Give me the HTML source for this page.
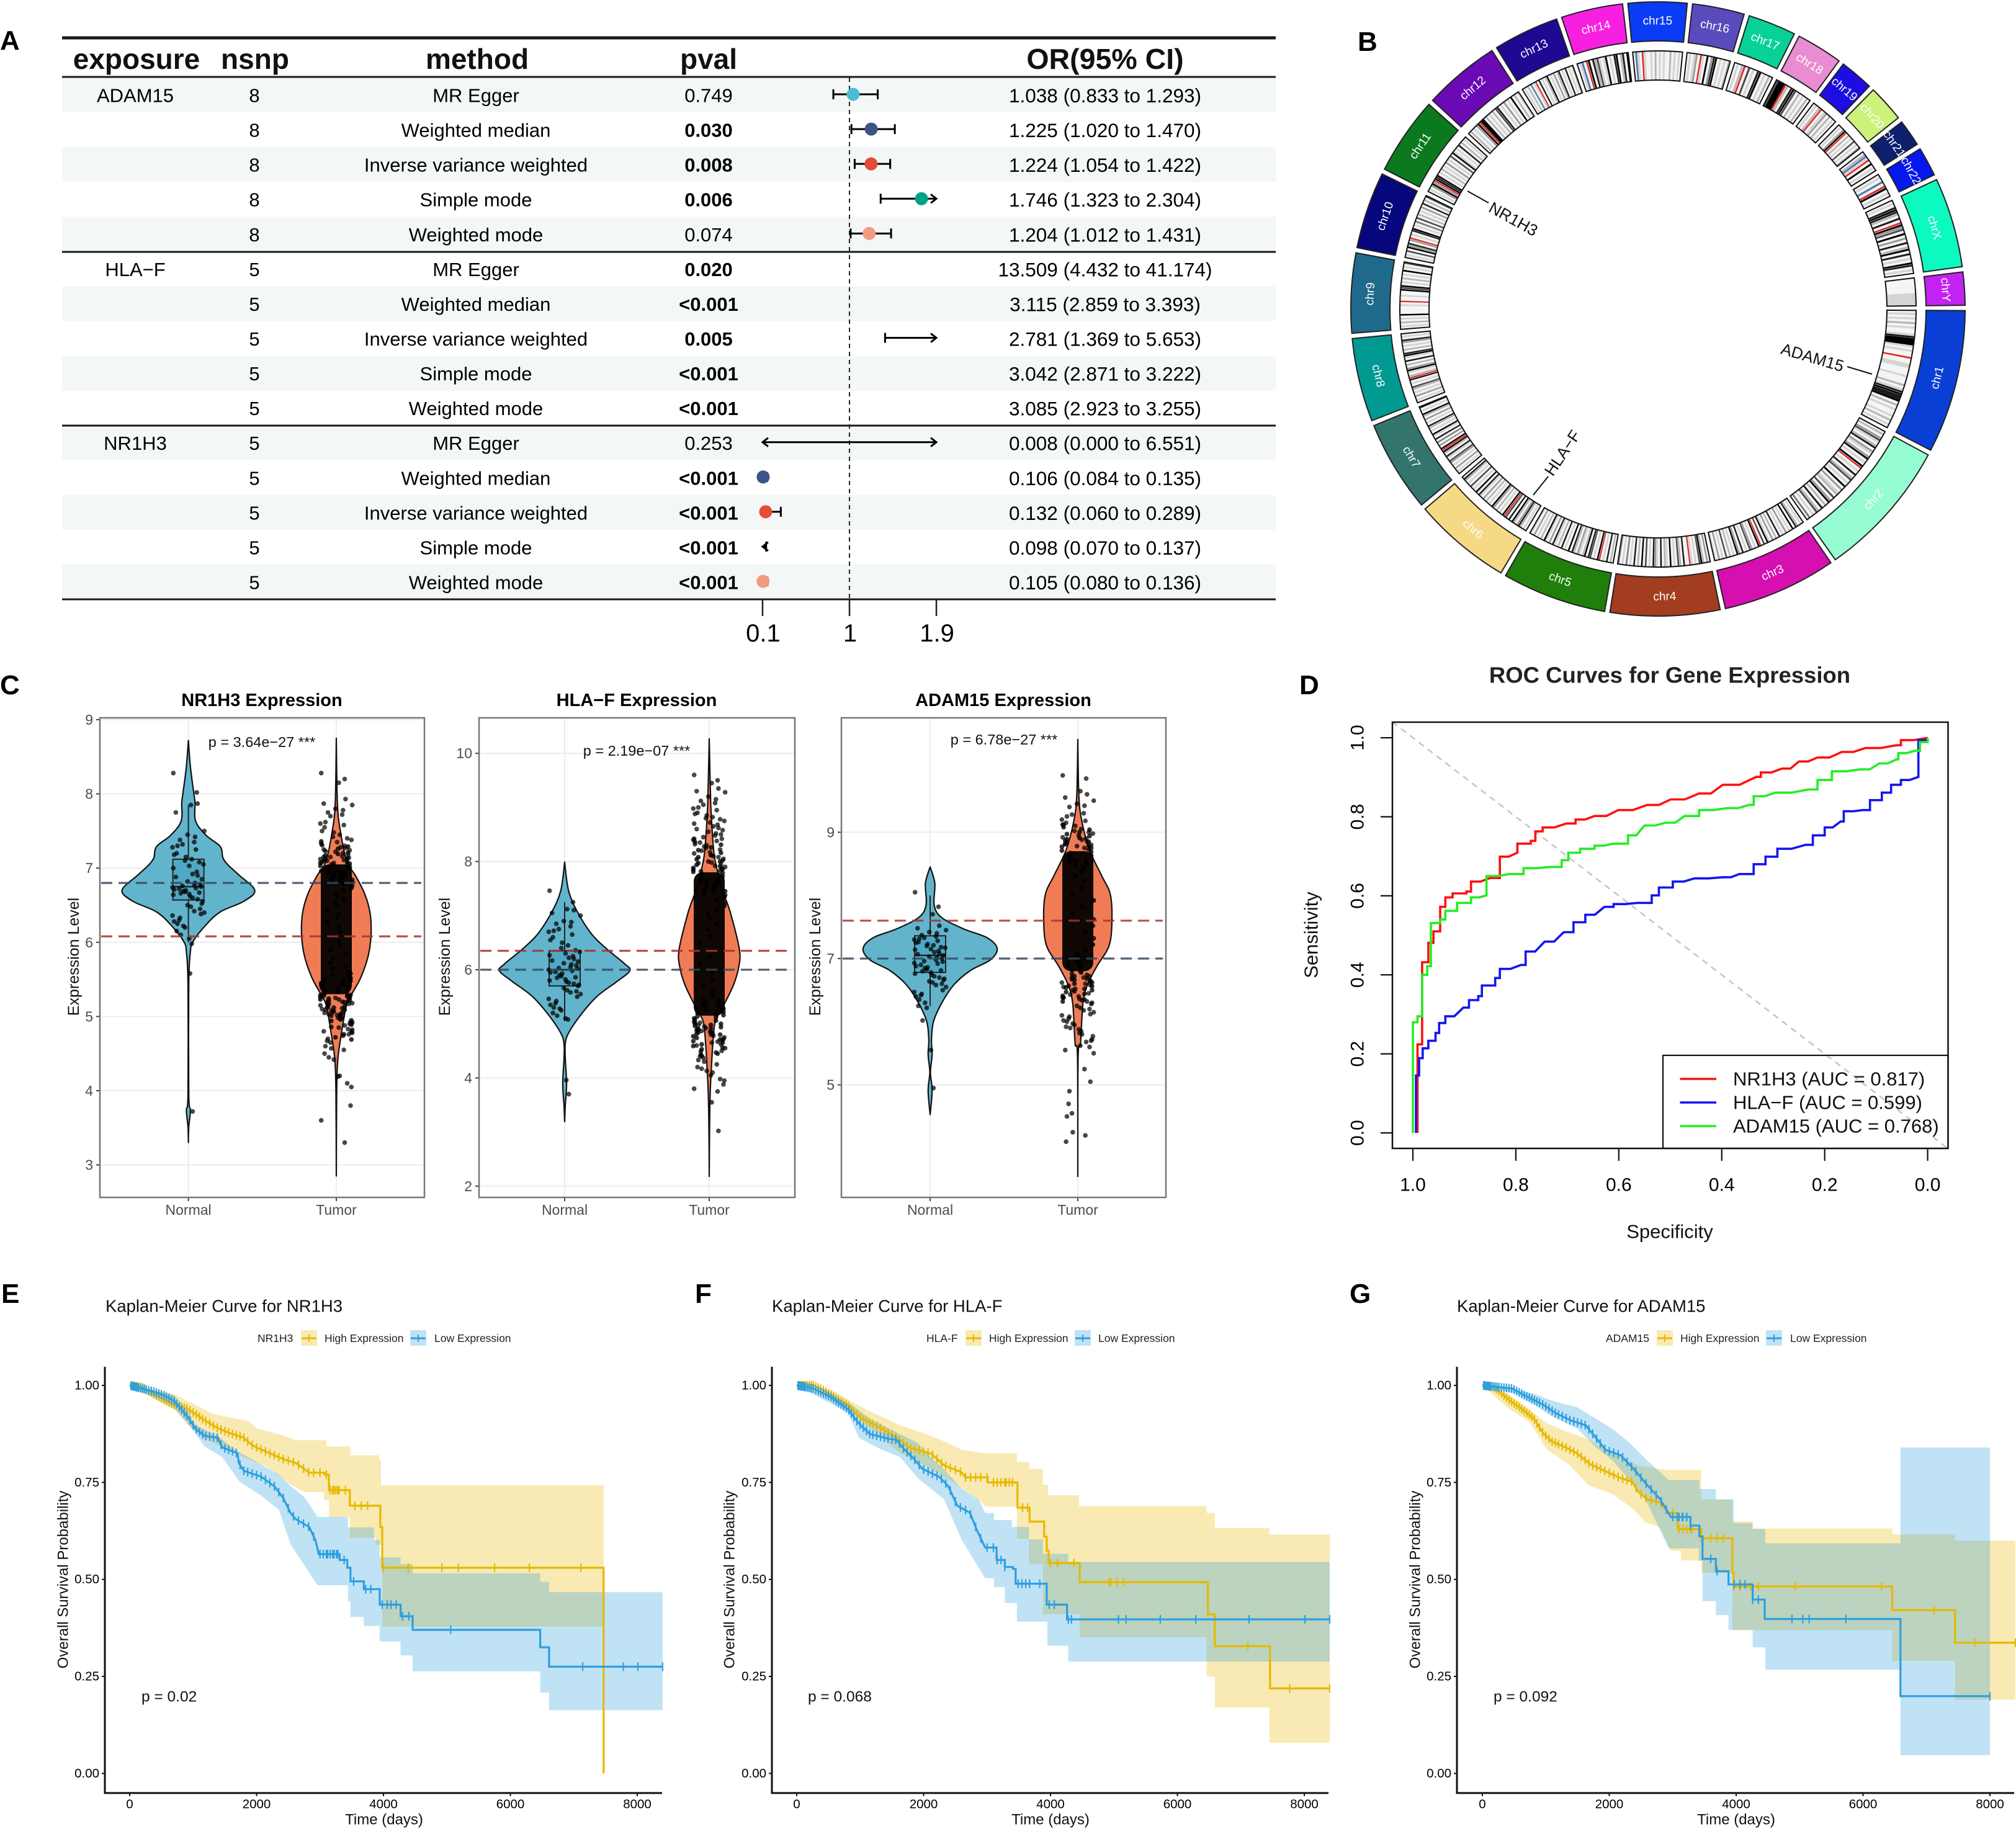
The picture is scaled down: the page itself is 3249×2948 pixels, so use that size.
<!DOCTYPE html>
<html lang="en">
<head>
<meta charset="utf-8">
<title>Gene expression multi-panel figure</title>
<style>
html,body{margin:0;padding:0;background:#fff}
svg{display:block}
text{font-family:"Liberation Sans",sans-serif;fill:#000}
.letter{font-size:44px;font-weight:700}
.vt{font-size:29px;font-weight:700;text-anchor:middle;dominant-baseline:central}
.yl{font-size:25px;text-anchor:middle;dominant-baseline:central;fill:#111}
.pv{font-size:23.5px;text-anchor:middle;dominant-baseline:central;fill:#111}
.km-title{font-size:27.5px;dominant-baseline:central;fill:#111}
.km-leg{font-size:17.5px;dominant-baseline:central;fill:#222}
.km-axis{font-size:24px;text-anchor:middle;dominant-baseline:central;fill:#111}
.km-p{font-size:24.5px;dominant-baseline:central;fill:#111}
.gene{font-size:26px;text-anchor:middle;dominant-baseline:central;fill:#111}
.roc-t{font-size:31px;text-anchor:middle;dominant-baseline:central;fill:#111}
.roc-leg{font-size:31px;dominant-baseline:central;fill:#111}
.hdr{font-size:46px;font-weight:700;text-anchor:middle;dominant-baseline:central;fill:#111}
</style>
</head>
<body>
<svg id="fig" xmlns="http://www.w3.org/2000/svg" width="3249" height="2948" viewBox="0 0 3249 2948">
<rect x="0" y="0" width="3249" height="2948" fill="#fff"/>
<g id="forest"></g>
<g id="circos"></g>
<g id="violins"></g>
<g id="roc"></g>
<g id="km"></g>

<text class="letter" x="0" y="80">A</text>
<text class="letter" x="2188" y="82">B</text>
<text class="letter" x="0" y="1119">C</text>
<text class="letter" x="2094" y="1119">D</text>
<text class="letter" x="2" y="2100">E</text>
<text class="letter" x="1120" y="2100">F</text>
<text class="letter" x="2175" y="2100">G</text>

<text class="hdr" x="220" y="95">exposure</text>
<text class="hdr" x="411" y="95">nsnp</text>
<text class="hdr" x="769" y="95">method</text>
<text class="hdr" x="1142" y="95">pval</text>
<text class="hdr" x="1781" y="95" style="font-size:46.5px">OR(95% CI)</text>

<text class="gene" x="2439" y="353" transform="rotate(29 2439 353)">NR1H3</text>
<text class="gene" x="2921" y="576" transform="rotate(16.5 2921 576)">ADAM15</text>
<text class="gene" x="2518" y="730" transform="rotate(-56 2518 730)">HLA−F</text>

<text class="vt" x="422" y="1129">NR1H3 Expression</text>
<text class="vt" x="1026" y="1129">HLA−F Expression</text>
<text class="vt" x="1617" y="1129">ADAM15 Expression</text>
<text class="yl" x="119" y="1542" transform="rotate(-90 119 1542)">Expression Level</text>
<text class="yl" x="717" y="1542" transform="rotate(-90 717 1542)">Expression Level</text>
<text class="yl" x="1314" y="1542" transform="rotate(-90 1314 1542)">Expression Level</text>
<text class="pv" x="422" y="1196">p = 3.64e−27 ***</text>
<text class="pv" x="1026" y="1210">p = 2.19e−07 ***</text>
<text class="pv" x="1618" y="1192">p = 6.78e−27 ***</text>

<text x="2691" y="1088" style="font-size:36.5px;font-weight:700;text-anchor:middle;dominant-baseline:central;fill:#222">ROC Curves for Gene Expression</text>
<text class="roc-t" x="2691" y="1985">Specificity</text>
<text class="roc-t" x="2113" y="1507" transform="rotate(-90 2113 1507)">Sensitivity</text>
<text class="roc-leg" x="2793" y="1739">NR1H3 (AUC = 0.817)</text>
<text class="roc-leg" x="2793" y="1777">HLA−F (AUC = 0.599)</text>
<text class="roc-leg" x="2793" y="1815">ADAM15 (AUC = 0.768)</text>

<text class="km-title" x="170" y="2105">Kaplan-Meier Curve for NR1H3</text>
<text class="km-title" x="1244" y="2105">Kaplan-Meier Curve for HLA-F</text>
<text class="km-title" x="2348" y="2105">Kaplan-Meier Curve for ADAM15</text>
<text class="km-leg" x="415" y="2157">NR1H3</text>
<text class="km-leg" x="523" y="2157">High Expression</text>
<text class="km-leg" x="700" y="2157">Low Expression</text>
<text class="km-leg" x="1493" y="2157">HLA-F</text>
<text class="km-leg" x="1594" y="2157">High Expression</text>
<text class="km-leg" x="1770" y="2157">Low Expression</text>
<text class="km-leg" x="2588" y="2157">ADAM15</text>
<text class="km-leg" x="2708" y="2157">High Expression</text>
<text class="km-leg" x="2885" y="2157">Low Expression</text>
<text class="km-axis" x="619" y="2933">Time (days)</text>
<text class="km-axis" x="1693" y="2933">Time (days)</text>
<text class="km-axis" x="2798" y="2933">Time (days)</text>
<text class="km-axis" x="102" y="2546" transform="rotate(-90 102 2546)">Overall Survival Probability</text>
<text class="km-axis" x="1176" y="2546" transform="rotate(-90 1176 2546)">Overall Survival Probability</text>
<text class="km-axis" x="2281" y="2546" transform="rotate(-90 2281 2546)">Overall Survival Probability</text>
<text class="km-p" x="228" y="2735">p = 0.02</text>
<text class="km-p" x="1302" y="2735">p = 0.068</text>
<text class="km-p" x="2407" y="2735">p = 0.092</text>
</svg>

<script>
/* ---------- Panel A data ---------- */
const forestExposures=["ADAM15","","","","","HLA−F","","","","","NR1H3","","","",""];
const forestNsnp=[8,8,8,8,8,5,5,5,5,5,5,5,5,5,5];
const forestMethods=["MR Egger","Weighted median","Inverse variance weighted","Simple mode","Weighted mode","MR Egger","Weighted median","Inverse variance weighted","Simple mode","Weighted mode","MR Egger","Weighted median","Inverse variance weighted","Simple mode","Weighted mode"];
const forestPvals=["0.749","0.030","0.008","0.006","0.074","0.020","<0.001","0.005","<0.001","<0.001","0.253","<0.001","<0.001","<0.001","<0.001"];
const forestOr=[1.038,1.225,1.224,1.746,1.204,13.509,3.115,2.781,3.042,3.085,0.008,0.106,0.132,0.098,0.105];
const forestLow=[0.833,1.020,1.054,1.323,1.012,4.432,2.859,1.369,2.871,2.923,0.000,0.084,0.060,0.070,0.080];
const forestHigh=[1.293,1.470,1.422,2.304,1.431,41.174,3.393,5.653,3.222,3.255,6.551,0.135,0.289,0.137,0.136];
const forestAxisTicks=[0.1,1,1.9];
const methodColors={"MR Egger":"#4DBBD5","Weighted median":"#3C5488","Inverse variance weighted":"#E64B35","Simple mode":"#00A087","Weighted mode":"#F39B7F"};

/* ---------- Panel B data ---------- */
const chromNames=["chr1","chr2","chr3","chr4","chr5","chr6","chr7","chr8","chr9","chr10","chr11","chr12","chr13","chr14","chr15","chr16","chr17","chr18","chr19","chr20","chr21","chr22","chrX","chrY"];
const chromLengths=[248.9,242.2,198.3,190.2,181.5,170.8,159.3,145.1,138.4,133.8,135.1,133.3,114.4,107,102,90.3,83.3,80.4,58.6,64.4,46.7,50.8,156,57.2];
const chromColors=["#0a3fd6","#96fdd2","#d60fb0","#a33d20","#1f7f0a","#f6d985","#33756c","#009a93","#1f6a8c","#06067d","#0b7a1e","#6a0ab5","#1f0892","#f820e0","#0b3cf5","#5a4bbd","#08d198","#ea8cd2","#1c0ee0","#ccf27a","#0e1f6e","#0518ee","#0cf9c0","#c323f0"];
const chromBands=[
"01010201001677710100r0011000100020167667020100102010",
"0203510260310370107r010602501070301205037020602501040",
"0102607010301060203017050r7010350106037010205010301",
"0302750101r0060250107012060136010507020601040103",
"0206010r701056072013026070106020160301702010301",
"0102630270605r70102037010203016070105010260",
"010301035016027r70304060170102601030270106",
"0103010250106r20173020601760201036010",
"01020107000010r00100757010201070105",
"0105073603r01067010405020103060205",
"010373r767010201030105071010602010",
"0201037r77020102056010301070201",
"01020b01r0601027010302601060102",
"01b0r7062510170106702607",
"0b10r100102010100201010",
"010130r1070367010102",
"0102r050106701020",
"5777r206750201020",
"0102r01302010",
"01037r0201050103",
"02b1r07010",
"010b0r7010",
"0106762060r7350703060270601076010",
"0000000111111"
];
const bandShades={"0":"#f5f5f5","1":"#d4d4d4","2":"#b5b5b5","3":"#989898","4":"#7a7a7a","5":"#4a4a4a","6":"#1c1c1c","7":"#000000","r":"#e8201c","b":"#4a78b0"};

/* ---------- Panel C data: [expression value, relative density] ---------- */
const densNR1H3Normal=[[8.72,0],[8.37,.03],[8.02,.08],[7.88,.1],[7.63,.11],[7.44,.27],[7.29,.48],[7.14,.52],[7.04,.6],[6.9,.77],[6.7,1],[6.55,.83],[6.41,.48],[6.21,.24],[6.01,.07],[5.87,.03],[5.43,.006],[3.96,.006],[3.74,.03],[3.51,.006],[3.3,0]];
const densNR1H3Tumor=[[8.75,0],[7.88,.03],[7.49,.12],[7.09,.3],[6.9,.55],[6.65,.82],[6.4,.97],[6.11,1],[5.82,.92],[5.52,.7],[5.28,.42],[5.13,.28],[4.69,.12],[4.4,.04],[3.96,.01],[2.85,0]];
const densHLAFNormal=[[7.99,0],[7.46,.06],[7.06,.2],[6.65,.42],[6.38,.65],[6.11,.92],[5.98,1],[5.78,.8],[5.51,.5],[5.17,.25],[4.83,.06],[4.63,.01],[4.36,.01],[3.89,.03],[3.49,.01],[3.19,0]];
const densHLAFTumor=[[10.27,0],[9.08,.05],[8.4,.12],[8,.2],[7.46,.45],[7.06,.7],[6.38,1],[6.05,.98],[5.71,.8],[5.31,.45],[5.04,.2],[4.63,.12],[4.16,.07],[3.69,.03],[3.02,.01],[2.18,0]];
const densADAMNormal=[[8.45,0],[8.19,.07],[7.85,.06],[7.65,.17],[7.47,.5],[7.33,.85],[7.16,1],[6.98,.9],[6.81,.6],[6.58,.35],[6.29,.17],[6,.05],[5.71,.02],[5.48,.03],[5.2,.005],[4.91,.03],[4.53,0]];
const densADAMTumor=[[10.47,0],[9.58,.03],[9.17,.12],[8.71,.35],[8.31,.7],[8.02,.95],[7.62,1],[7.21,.92],[6.87,.55],[6.58,.28],[6.29,.15],[5.66,.08],[5.43,.01],[3.55,0]];
const ptsNR1H3Normal=[8.28,8.02,7.85,7.87,7.75,7.5,7.45,7.42,7.38,7.35,7.32,7.3,7.28,7.25,7.2,7.18,7.15,7.12,7.1,7.08,7.05,7.03,7.0,6.95,6.92,6.9,6.88,6.85,6.82,6.8,6.78,6.77,6.76,6.75,6.74,6.73,6.72,6.71,6.7,6.69,6.68,6.67,6.66,6.65,6.64,6.62,6.6,6.58,6.55,6.52,6.5,6.48,6.45,6.42,6.4,6.38,6.36,6.33,6.3,6.28,6.25,6.22,6.2,6.15,6.1,6.05,5.98,5.58,3.72];
const ptsNR1H3Tumor=[8.28,8.2,8.15,7.93,7.87,7.85,7.8,7.78,7.75,7.72,7.7,7.62,7.6,7.58,7.55,7.5,7.48,7.45,7.42,7.4,7.38,7.35,7.33,7.3,7.28,7.27,7.25,7.24,7.22,7.2,7.18,7.16,7.15,7.14,7.12,7.11,7.1,7.08,7.07,7.05,7.04,7.02,7.01,6.98,6.96,6.95,6.93,6.9,5.29,5.27,5.25,5.23,5.21,5.2,5.18,5.17,5.15,5.13,5.12,5.1,5.09,5.08,5.06,5.05,5.03,5.02,5.0,4.98,4.97,4.95,4.93,4.9,4.88,4.85,4.83,4.8,4.78,4.76,4.74,4.7,4.67,4.65,4.6,4.57,4.55,4.5,4.45,4.42,4.2,4.19,4.1,4.05,3.8,3.6,3.3];
const ptsNR1H3TumorExtra=[7.36,7.31,7.29,7.26,7.23,7.21,7.19,7.17,7.15,7.13,7.12,7.1,7.09,7.07,7.06,7.05,7.03,7.02,7.01,7,6.99,6.97,6.96,6.95,6.94,6.93,6.92,6.91,6.9,6.89,6.88,6.87,6.86,6.85,6.84,6.83,6.82,6.81,6.8,6.79,6.76,6.73,6.7,6.66,6.62,6.58,6.53,6.49,6.44,6.39,6.33,6.27,6.21,6.14,6.08,6.02,5.96,5.9,5.84,5.78,5.72,5.68,5.64,5.6,5.58,5.56,5.54,5.52,5.5,5.49,5.48,5.47,5.46,5.45,5.44,5.43,5.42,5.41,5.4,5.39,5.38,5.37,5.36,5.35,5.34,5.33,5.32,5.31,5.3,5.29,5.28,5.27,5.26,5.25,5.24,5.23,5.22,5.21,5.2,5.19,5.17,5.16,5.14,5.12,5.11,5.09,5.07,5.05,5.03,5.01,4.99,4.96,4.94,4.92,4.89,4.86,4.82,4.79,4.76,4.72,4.69];
const ptsHLAFNormal=[7.46,7.25,7.12,7.1,7.05,7.0,6.9,6.88,6.85,6.8,6.75,6.72,6.7,6.65,6.6,6.55,6.5,6.45,6.4,6.36,6.33,6.3,6.27,6.25,6.22,6.2,6.17,6.15,6.12,6.1,6.08,6.05,6.03,6.02,6,5.98,5.96,5.95,5.93,5.9,5.88,5.86,5.85,5.82,5.8,5.78,5.76,5.74,5.72,5.7,5.66,5.62,5.6,5.58,5.55,5.5,5.46,5.42,5.38,5.35,5.3,5.28,5.25,5.2,5.15,5.1,5.08,3.96,3.7];
const ptsHLAFTumor=[9.6,9.5,9.45,9.35,9.3,9.28,9.2,9.15,9.12,9.08,9.05,9.0,8.98,8.95,8.9,8.88,8.85,8.82,8.8,8.78,8.75,8.72,8.7,8.68,8.65,8.62,8.6,8.58,8.55,8.52,8.5,8.48,8.45,8.42,8.4,8.38,8.35,8.32,8.3,8.28,8.25,8.22,8.2,8.17,8.15,8.12,8.1,8.08,8.05,8.02,8.0,7.98,7.95,7.92,7.9,7.87,7.85,7.82,5.02,5.0,4.97,4.95,4.92,4.9,4.87,4.85,4.82,4.8,4.78,4.75,4.72,4.7,4.67,4.65,4.62,4.6,4.55,4.5,4.47,4.43,4.4,4.37,4.33,4.3,4.25,4.2,4.17,4.13,4.1,4.05,3.98,3.95,3.88,3.8,3.75,3.55,3.02];
const ptsHLAFTumorExtra=[8.42,8.36,8.31,8.26,8.21,8.16,8.12,8.08,8.04,8.0,7.97,7.94,7.91,7.88,7.86,7.83,7.81,7.79,7.77,7.75,7.73,7.71,7.69,7.67,7.65,7.63,7.61,7.59,7.57,7.55,7.53,7.51,7.49,7.47,7.45,7.43,7.41,7.38,7.34,7.3,7.24,7.18,7.1,7.02,6.94,6.84,6.74,6.62,6.5,6.38,6.24,6.1,5.96,5.82,5.7,5.6,5.52,5.46,5.42,5.38,5.36,5.34,5.32,5.3,5.28,5.26,5.24,5.22,5.2,5.18,5.16,5.14,5.12,5.1,5.08,5.06,5.04,5.02,5,4.98,4.96,4.94,4.92,4.9,4.88,4.86,4.84,4.82,4.8,4.77,4.74,4.71,4.68,4.65,4.62,4.59,4.56,4.53,4.49,4.45,4.41];
const ptsADAMNormal=[8.05,7.82,7.7,7.52,7.48,7.45,7.42,7.4,7.37,7.35,7.33,7.31,7.3,7.28,7.26,7.25,7.23,7.21,7.2,7.18,7.17,7.15,7.14,7.12,7.1,7.08,7.07,7.05,7.03,7.02,7,6.98,6.96,6.95,6.93,6.92,6.9,6.88,6.86,6.85,6.83,6.81,6.8,6.78,6.76,6.74,6.72,6.7,6.68,6.66,6.64,6.62,6.6,6.58,6.55,6.5,6.47,6.44,6.42,6.4,6.35,6.3,6.22,6.25,6.02,5.55,4.95];
const ptsADAMTumor=[9.9,9.85,9.65,9.6,9.55,9.5,9.45,9.42,9.4,9.3,9.28,9.25,9.2,9.18,9.15,9.12,9.1,9.05,9.02,9.0,8.98,8.95,8.92,8.9,8.88,8.85,8.82,8.8,8.78,8.75,6.72,6.7,6.67,6.65,6.62,6.6,6.57,6.55,6.52,6.5,6.48,6.45,6.43,6.4,6.38,6.36,6.34,6.32,6.3,6.28,6.25,6.22,6.2,6.18,6.15,6.12,6.1,6.08,6.05,6.02,6,5.97,5.95,5.92,5.9,5.88,5.85,5.82,5.8,5.77,5.72,5.7,5.68,5.62,5.6,5.55,5.5,5.05,5.25,4.9,4.7,4.55,4.5,4.25,4.2,4.1];
const ptsADAMTumorExtra=[9.12,9.08,9.04,9.0,8.97,8.94,8.91,8.89,8.87,8.85,8.83,8.81,8.79,8.77,8.75,8.73,8.71,8.69,8.67,8.65,8.63,8.61,8.59,8.57,8.55,8.53,8.51,8.48,8.44,8.38,8.3,8.22,8.12,8.02,7.92,7.82,7.72,7.62,7.52,7.42,7.32,7.22,7.14,7.08,7.04,7.0,6.98,6.96,6.94,6.92,6.9,6.88,6.86,6.84,6.82,6.8,6.78,6.76,6.74,6.72,6.7,6.68,6.66,6.64,6.62,6.6,6.58,6.56,6.54,6.52,6.5,6.47,6.44,6.41,6.38,6.35,6.32];
const jitterFractions=[-.9,.35,-.2,.8,-.55,.1,.95,-.7,.5,-.35,.65,-.05,-.85,.25,.75,-.45,.15,-.65,.9,.4,-.15,.55,-.95,.05,.7,-.3,.85,-.5,.2,-.75,.45];
const violinTicksNR1H3=[3,4,5,6,7,8,9];
const violinTicksHLAF=[2,4,6,8,10];
const violinTicksADAM=[5,7,9];
const violinCats=["Normal","Tumor"];

/* ---------- Panel D data ---------- */
const rocNR1H3Spec=[.991,.991,.982,.970,.960,.947,.947,.937,.923,.896,.887,.850,.831,.831,.797,.797,.771,.762,.748,.702,.684,.647,.601,.545,.499,.444,.398,.333,.324,.283,.250,.214,.167,.121,.061,.052,0];
const rocNR1H3Sens=[0,.224,.432,.481,.51,.528,.572,.596,.606,.611,.636,.645,.655,.699,.709,.732,.739,.763,.773,.783,.793,.802,.817,.83,.844,.859,.881,.901,.912,.922,.94,.95,.964,.974,.981,.994,1];
const rocHLAFSpec=[.994,.994,.988,.981,.97,.956,.949,.937,.902,.891,.873,.866,.84,.831,.79,.781,.744,.707,.688,.665,.628,.61,.564,.536,.522,.495,.453,.398,.366,.338,.315,.292,.237,.223,.2,.169,.163,.126,.112,.089,.071,.052,.018,.018,0];
const rocHLAFSens=[0,.145,.189,.214,.233,.253,.278,.295,.317,.336,.346,.373,.392,.415,.425,.459,.484,.508,.533,.552,.572,.579,.582,.601,.621,.636,.644,.647,.655,.68,.699,.719,.729,.753,.773,.788,.814,.817,.842,.861,.881,.893,.901,.994,.999];
const rocADAMSpec=[1,1,.991,.982,.982,.972,.965,.965,.947,.937,.914,.887,.857,.857,.813,.785,.734,.711,.698,.675,.647,.61,.582,.55,.509,.472,.444,.389,.347,.338,.296,.232,.214,.186,.131,.094,.061,.057,.025,.015,0];
const rocADAMSens=[0,.28,.295,.295,.40,.422,.422,.531,.54,.562,.582,.596,.601,.65,.655,.67,.673,.69,.709,.719,.727,.732,.753,.778,.785,.802,.817,.822,.83,.852,.861,.869,.893,.915,.92,.935,.945,.961,.967,.989,.999];
const rocAxisTicks=[0,.2,.4,.6,.8,1];

/* ---------- Panels E-G data: [time, survival] ---------- */
const kmXTicks=[0,2000,4000,6000,8000];
const kmYTicks=[0,.25,.5,.75,1];
const kmDenseCensorTimes=[20,40,60,80,100,120,140,170,200,230,260,300,340,380,420,460,500,540,580,620,660,700,740,780,820,860,900,950,1000,1050,1100,1150,1200,1260,1320,1380,1440,1500,1560,1620,1680,1740,1800,1860,1930,2000,2070,2140,2210,2280,2350,2420,2500,2580,2660,2740,2820,2900,3000,3100,3160,3220,3280];

const kmNR1H3High=[[0,1],[200,.995],[360,.98],[520,.965],[700,.95],[910,.94],[1050,.925],[1180,.91],[1390,.89],[1530,.88],[1800,.865],[1900,.85],[2000,.84],[2210,.825],[2420,.81],[2620,.80],[2830,.775],[3070,.77],[3140,.73],[3450,.73],[3470,.69],[3930,.69],[3950,.635],[3980,.53],[7470,.53],[7470,0]];
const kmNR1H3HighUp=[[0,1],[700,.978],[910,.96],[1320,.926],[1870,.908],[2000,.89],[2350,.874],[2620,.859],[3100,.843],[3480,.82],[3930,.809],[3960,.743],[7470,.743]];
const kmNR1H3HighLo=[[0,1],[700,.938],[980,.888],[1320,.852],[1800,.815],[2140,.793],[2550,.743],[2760,.725],[3060,.705],[3140,.661],[3470,.607],[3880,.589],[3980,.378],[7470,.378]];
const kmNR1H3Low=[[0,1],[360,.985],[530,.975],[700,.96],[910,.92],[1040,.888],[1180,.87],[1390,.865],[1460,.84],[1700,.825],[1720,.80],[1800,.78],[2070,.765],[2280,.74],[2420,.71],[2540,.67],[2620,.655],[2830,.635],[2930,.60],[2980,.565],[3280,.565],[3310,.55],[3430,.53],[3480,.495],[3690,.475],[3870,.475],[3940,.435],[4270,.405],[4460,.37],[6470,.325],[6610,.275],[8400,.275]];
const kmNR1H3LowUp=[[0,1],[700,.974],[910,.938],[1040,.897],[1390,.87],[1660,.834],[2070,.797],[2350,.77],[2520,.743],[2760,.711],[2960,.661],[3440,.634],[3850,.602],[3940,.557],[4270,.539],[4460,.516],[6470,.494],[6610,.467],[8400,.467]];
const kmNR1H3LowLo=[[0,1],[700,.942],[980,.888],[1180,.843],[1460,.815],[1730,.752],[2070,.716],[2350,.68],[2540,.589],[2960,.485],[3440,.444],[3480,.403],[3690,.38],[3940,.34],[4270,.304],[4460,.263],[6470,.208],[6610,.163],[8400,.163]];
const kmNR1H3HighCensor=[3200,3250,3300,3400,3550,3650,3750,4000,4390,4920,5180,5750,6300,7110];
const kmNR1H3LowCensor=[3050,3120,3200,3260,3380,3530,3720,3800,3980,4060,4120,4200,4300,4400,5060,7140,7780,8010,8400];

const kmHLAFHigh=[[0,1],[260,1],[400,.99],[540,.975],[810,.948],[1020,.915],[1290,.893],[1570,.866],[1770,.84],[2120,.824],[2320,.794],[2600,.776],[2660,.763],[3010,.75],[3480,.685],[3670,.649],[3900,.61],[3940,.574],[3970,.542],[4460,.493],[6480,.41],[6590,.328],[7460,.219],[8400,.219]];
const kmHLAFHighUp=[[0,1],[540,.99],[950,.95],[1220,.928],[1630,.897],[2050,.874],[2320,.856],[2600,.834],[2970,.825],[3470,.803],[3660,.785],[3880,.744],[3960,.717],[4450,.689],[6460,.671],[6590,.632],[7450,.616],[8400,.616]];
const kmHLAFHighLo=[[0,1],[540,.966],[950,.921],[1290,.871],[1630,.826],[2050,.79],[2390,.758],[2600,.735],[2870,.706],[2970,.688],[3470,.605],[3660,.539],[3880,.41],[4460,.351],[6460,.25],[6590,.17],[7450,.079],[8400,.079]];
const kmHLAFLow=[[0,1],[260,.992],[540,.97],[810,.938],[980,.902],[1150,.875],[1430,.863],[1570,.86],[1700,.834],[1840,.812],[1980,.785],[2250,.764],[2390,.74],[2530,.69],[2730,.672],[2840,.627],[2970,.582],[3150,.55],[3280,.532],[3410,.527],[3450,.489],[3940,.435],[4260,.397],[8400,.397]];
const kmHLAFLowUp=[[0,1],[810,.956],[1150,.915],[1630,.874],[1910,.852],[2050,.825],[2320,.784],[2600,.734],[2870,.706],[2970,.671],[3110,.653],[3390,.635],[3660,.603],[3880,.566],[4280,.545],[8400,.545]];
const kmHLAFLowLo=[[0,1],[810,.929],[980,.865],[1290,.838],[1630,.815],[1910,.761],[2320,.707],[2600,.602],[2970,.503],[3110,.48],[3280,.439],[3470,.391],[3950,.329],[4280,.288],[8400,.288]];
const kmHLAFHighCensor=[3300,3350,3400,3560,3640,4000,4110,4370,4920,4950,5050,5150,7110,7770,8400];
const kmHLAFLowCensor=[3490,3550,3610,3670,3830,3980,4060,4280,4330,5070,5190,5730,6290,7130,8010,8400];

const kmADAMHigh=[[0,1],[190,.996],[400,.965],[600,.942],[810,.915],[950,.879],[1090,.856],[1290,.842],[1500,.824],[1700,.797],[1910,.781],[2180,.761],[2360,.752],[2460,.725],[2600,.707],[2800,.698],[2940,.671],[3080,.63],[3280,.63],[3450,.606],[3940,.517],[3960,.482],[6460,.421],[7450,.337],[8400,.337]];
const kmADAMHighUp=[[0,1],[400,.978],[740,.938],[1020,.902],[1360,.879],[1670,.861],[2050,.827],[2460,.793],[2910,.782],[3450,.706],[3940,.65],[4260,.631],[6460,.616],[7450,.6],[8400,.6]];
const kmADAMHighLo=[[0,1],[400,.942],[740,.906],[1020,.834],[1360,.797],[1670,.743],[2050,.72],[2390,.68],[2560,.648],[2800,.634],[2970,.574],[3130,.549],[3450,.517],[3940,.369],[6460,.29],[7450,.19],[8400,.19]];
const kmADAMLow=[[0,1],[470,.992],[670,.974],[950,.951],[1150,.929],[1390,.91],[1630,.897],[1810,.861],[1940,.834],[2180,.82],[2390,.784],[2600,.743],[2800,.707],[2970,.661],[3280,.639],[3420,.611],[3470,.553],[3680,.521],[3880,.487],[4260,.448],[4450,.398],[6590,.199],[8000,.199]];
const kmADAMLowUp=[[0,1],[540,.988],[810,.979],[1090,.961],[1500,.943],[1770,.916],[2050,.888],[2320,.852],[2600,.806],[2940,.756],[3420,.733],[3680,.706],[3960,.645],[4260,.63],[4460,.593],[6590,.84],[8000,.84]];
const kmADAMLowLo=[[0,1],[540,.978],[810,.951],[1090,.92],[1500,.888],[1770,.843],[2050,.807],[2390,.743],[2600,.697],[2940,.58],[3410,.548],[3470,.444],[3680,.408],[3880,.37],[4260,.325],[4460,.267],[6590,.047],[8000,.047]];
const kmADAMHighCensor=[3300,3450,3600,3700,3800,3960,4060,4230,4350,4930,6290,7120,7760,8400];
const kmADAMLowCensor=[3070,3150,3220,3280,3600,3700,3970,4060,4140,4260,4350,4880,5050,5150,5730,8000];

/* ---------- helpers ---------- */
const NS="http://www.w3.org/2000/svg";
function node(parent,tag,attrs){
  const e=document.createElementNS(NS,tag);
  for(const k in attrs){e.setAttribute(k,attrs[k]);}
  parent.appendChild(e);
  return e;
}
function smoothPath(points){
  let d="M"+points[0][0].toFixed(1)+" "+points[0][1].toFixed(1);
  for(let i=0;i<points.length-1;i++){
    const p0=points[Math.max(i-1,0)],p1=points[i],p2=points[i+1],p3=points[Math.min(i+2,points.length-1)];
    const c1=[p1[0]+(p2[0]-p0[0])/6,p1[1]+(p2[1]-p0[1])/6];
    const c2=[p2[0]-(p3[0]-p1[0])/6,p2[1]-(p3[1]-p1[1])/6];
    d+="C"+c1[0].toFixed(1)+" "+c1[1].toFixed(1)+" "+c2[0].toFixed(1)+" "+c2[1].toFixed(1)+" "+p2[0].toFixed(1)+" "+p2[1].toFixed(1);
  }
  return d;
}

/* ---------- Panel A ---------- */
(function(){
  const g=document.getElementById("forest");
  const top=125,rowH=56.07,left=100,right=2056,zero=1369,unit=155.6;
  const xOf=v=>zero+(v-1)*unit;
  const minV=forestAxisTicks[0],maxV=forestAxisTicks[2];
  forestOr.forEach((or,i)=>{
    const yTop=top+i*rowH,yc=yTop+rowH/2+1;
    if(i%2===0){
      const bg=node(g,"rect",{x:left,y:yTop,width:right-left,height:rowH,fill:"#f3f7f6"});
      
      
    }
    const pBold=parseFloat(forestPvals[i].replace("<",""))<0.05;
    const cells=[[218,forestExposures[i]],[410,String(forestNsnp[i])],[767,forestMethods[i]],[1142,forestPvals[i]],[1781,or.toFixed(3)+" ("+forestLow[i].toFixed(3)+" to "+forestHigh[i].toFixed(3)+")"]];
    cells.forEach((c,j)=>{
      if(!c[1]) return;
      const t=node(g,"text",{x:c[0],y:yc,"text-anchor":"middle","dominant-baseline":"central","font-size":j===4?31.5:31,"font-weight":(j===3&&pBold)?700:400});
      
      
      t.textContent=c[1];
    });
  });
  [[61,5],[124,3],[406,3],[686,3],[966,3]].forEach(r=>{
    const l=node(g,"line",{x1:left,x2:right,y1:r[0],y2:r[0],stroke:"#1a1a1a","stroke-width":r[1]});
    
    
  });
  const ref=node(g,"line",{x1:zero,x2:zero,y1:top,y2:966,stroke:"#222","stroke-width":2,"stroke-dasharray":"7 6"});
  
  
  forestOr.forEach((or,i)=>{
    const yc=top+i*rowH+rowH/2-1;
    const lo=forestLow[i],hi=forestHigh[i];
    if(hi>=minV&&lo<=maxV){
      const a=Math.max(lo,minV),b=Math.min(hi,maxV);
      const whisker=node(g,"line",{x1:xOf(a),x2:xOf(b),y1:yc,y2:yc,stroke:"#000","stroke-width":3});
      
      
      [[lo,a,-1],[hi,b,1]].forEach(e=>{
        let shape;
        if((e[2]<0&&e[0]<minV&&or<minV+.05)||(e[2]>0&&e[0]>maxV)){
          const x=xOf(e[1]);
          shape=node(g,"path",{d:"M"+(x-e[2]*9)+" "+(yc-7)+"L"+x+" "+yc+"L"+(x-e[2]*9)+" "+(yc+7),fill:"none",stroke:"#000","stroke-width":3});
        }else if(e[0]>=minV&&e[0]<=maxV){
          const x=xOf(e[1]);
          shape=node(g,"line",{x1:x,x2:x,y1:yc-8,y2:yc+8,stroke:"#000","stroke-width":3});
        }
        if(shape){
          
          
        }
      });
    }
    if(or>=minV&&or<=maxV){
      const dot=node(g,"circle",{cx:xOf(or),cy:yc,r:10.5,fill:methodColors[forestMethods[i]]});
      
      
    }
  });
  forestAxisTicks.forEach(v=>{
    const x=xOf(v);
    const tk=node(g,"line",{x1:x,x2:x,y1:966,y2:993,stroke:"#222","stroke-width":2.5});
    
    
    const t=node(g,"text",{x:x+1,y:1021,"text-anchor":"middle","dominant-baseline":"central","font-size":40});
    
    
    t.textContent=String(v);
  });
})();

/* ---------- Panel B ---------- */
(function(){
  const g=document.getElementById("circos");
  const cx=2672,cy=498;
  const pt=(r,a)=>[cx+r*Math.cos(a*Math.PI/180),cy+r*Math.sin(a*Math.PI/180)];
  const sector=(r0,r1,a0,a1)=>{
    const A=pt(r1,a0),B=pt(r1,a1),C=pt(r0,a1),D=pt(r0,a0);
    const f=a1-a0>180?1:0;
    return "M"+A[0].toFixed(1)+" "+A[1].toFixed(1)+"A"+r1+" "+r1+" 0 "+f+" 1 "+B[0].toFixed(1)+" "+B[1].toFixed(1)+"L"+C[0].toFixed(1)+" "+C[1].toFixed(1)+"A"+r0+" "+r0+" 0 "+f+" 0 "+D[0].toFixed(1)+" "+D[1].toFixed(1)+"Z";
  };
  const gap=1;
  const total=chromLengths.reduce((a,b)=>a+b,0);
  const scale=(360-gap*chromLengths.length)/total;
  let angle=.3;
  chromNames.forEach((name,i)=>{
    const a0=angle,a1=angle+chromLengths[i]*scale;
    angle=a1+gap;
    const outer=node(g,"path",{d:sector(432,495,a0,a1),fill:chromColors[i],stroke:"#222","stroke-width":2});
    
    
    const mid=(a0+a1)/2;
    const p=pt(464,mid);
    const upper=Math.sin(mid*Math.PI/180)<0;
    const rot=upper?mid+90:mid-90;
    const t=node(g,"text",{x:p[0],y:p[1],"text-anchor":"middle","dominant-baseline":"central","font-size":19,style:"fill:#fff",transform:"rotate("+rot.toFixed(1)+" "+p[0].toFixed(1)+" "+p[1].toFixed(1)+")"});
    
    
    t.textContent=name;
    const base=node(g,"path",{d:sector(369,416,a0,a1),fill:"#e6e6e6"});
    
    
    const bands=chromBands[i];
    const step=(a1-a0)/bands.length;
    for(let b=0;b<bands.length;b++){
      const ch=bands[b];
      const solid=bands[b+1]===ch||bands[b-1]===ch;
      const width=solid?1:(ch==="r"?.7:.82);
      const slice=node(g,"path",{d:sector(369,416,a0+(b+(1-width)/2)*step,a0+(b+(1+width)/2)*step+(solid?.05:0)),fill:bandShades[ch]});
      
      
    }
    const box=node(g,"path",{d:sector(369,416,a0,a1),fill:"none",stroke:"#111","stroke-width":2});
    
    
  });
  [[2365,308,2399,327],[2977,591,3017,603],[2471,798,2495,768]].forEach(l=>{
    const ln=node(g,"line",{x1:l[0],y1:l[1],x2:l[2],y2:l[3],stroke:"#111","stroke-width":2});
    
    
  });
})();

/* ---------- Panel C ---------- */
function drawViolinPanel(cfg){
  const g=document.getElementById("violins");
  const yOf=v=>cfg.y0-(v-cfg.v0)*cfg.pxPerUnit;
  const xs=[cfg.xNormal,cfg.xTumor];
  const frame={x:cfg.left,y:1157,w:cfg.right-cfg.left,h:773};
  cfg.ticks.forEach(v=>{
    const gl=node(g,"line",{x1:frame.x,x2:frame.x+frame.w,y1:yOf(v),y2:yOf(v),stroke:"#ececec","stroke-width":2});
    
    
    const tk=node(g,"line",{x1:frame.x-6,x2:frame.x,y1:yOf(v),y2:yOf(v),stroke:"#444","stroke-width":2});
    
    
    const t=node(g,"text",{x:frame.x-11,y:yOf(v),"text-anchor":"end","dominant-baseline":"central","font-size":23,style:"fill:#4d4d4d"});
    
    
    t.textContent=String(v);
  });
  xs.forEach((x,i)=>{
    const gl=node(g,"line",{x1:x,x2:x,y1:frame.y,y2:frame.y+frame.h,stroke:"#ececec","stroke-width":2});
    
    
    const tk=node(g,"line",{x1:x,x2:x,y1:frame.y+frame.h,y2:frame.y+frame.h+6,stroke:"#444","stroke-width":2});
    
    
    const t=node(g,"text",{x:x,y:1950,"text-anchor":"middle","dominant-baseline":"central","font-size":23,style:"fill:#4d4d4d"});
    
    
    t.textContent=violinCats[i];
  });
  [[cfg.densNormal,cfg.halfNormal,cfg.xNormal,"#62B4CC"],[cfg.densTumor,cfg.halfTumor,cfg.xTumor,"#F07C55"]].forEach(v=>{
    const right=v[0].map(d=>[v[2]+d[1]*v[1],yOf(d[0])]);
    const left=v[0].slice().reverse().map(d=>[v[2]-d[1]*v[1],yOf(d[0])]);
    const d=smoothPath(right)+smoothPath(left).replace(/^M[^C]*/,"")+"Z";
    const shape=node(g,"path",{d:d,fill:v[3],stroke:"#111","stroke-width":2.2,"stroke-linejoin":"round"});
    
    
  });
  const b=cfg.box;
  const wh=node(g,"line",{x1:cfg.xNormal,x2:cfg.xNormal,y1:yOf(b[0]),y2:yOf(b[4]),stroke:"#222","stroke-width":2});
  
  
  const bx=node(g,"rect",{x:cfg.xNormal-25,y:yOf(b[1]),width:50,height:yOf(b[3])-yOf(b[1]),fill:"#4fa8c4",stroke:"#222","stroke-width":2});
  
  
  const md=node(g,"line",{x1:cfg.xNormal-25,x2:cfg.xNormal+25,y1:yOf(b[2]),y2:yOf(b[2]),stroke:"#222","stroke-width":2.5});
  
  
  const core=node(g,"rect",{x:cfg.xTumor-25,y:yOf(cfg.core[1]),width:50,height:yOf(cfg.core[0])-yOf(cfg.core[1]),rx:14,fill:"#060302","fill-opacity":.96});
  
  
  cfg.ptsNormal.forEach((v,i)=>{
    const c=node(g,"circle",{cx:cfg.xNormal+jitterFractions[(i*7+i%3)%jitterFractions.length]*27,cy:yOf(v),r:3.8,fill:"#000","fill-opacity":.72});
    
    
  });
  cfg.ptsTumor.forEach((v,i)=>{
    const c=node(g,"circle",{cx:cfg.xTumor+jitterFractions[(i*7+i%3)%jitterFractions.length]*27,cy:yOf(v),r:3.8,fill:"#000","fill-opacity":.72});
    
    
  });
  cfg.ptsExtra.forEach((v,i)=>{
    const c=node(g,"circle",{cx:cfg.xTumor+jitterFractions[(i*11+i%5)%jitterFractions.length]*27,cy:yOf(v),r:3.8,fill:"#000","fill-opacity":.8});
    
    
  });
  [[cfg.refRed,"#a83232"],[cfg.refBlue,"#34495e"]].forEach(r=>{
    const l=node(g,"line",{x1:frame.x+2,x2:frame.x+frame.w-5,y1:yOf(r[0]),y2:yOf(r[0]),stroke:r[1],"stroke-width":3.2,"stroke-dasharray":"18 10","stroke-opacity":.85});
    
    
  });
  const fr=node(g,"rect",{x:frame.x,y:frame.y,width:frame.w,height:frame.h,fill:"none",stroke:"#777","stroke-width":2.5});
  
  
}
drawViolinPanel({left:161,right:684,xNormal:303.6,xTumor:542,y0:1160,v0:9,pxPerUnit:119.6,ticks:violinTicksNR1H3,densNormal:densNR1H3Normal,densTumor:densNR1H3Tumor,halfNormal:107,halfTumor:56,box:[7.85,7.12,6.75,6.57,6.0],core:[5.3,7.05],ptsNormal:ptsNR1H3Normal,ptsTumor:ptsNR1H3Tumor,ptsExtra:ptsNR1H3TumorExtra,refRed:6.08,refBlue:6.8});
drawViolinPanel({left:772,right:1281,xNormal:910,xTumor:1143,y0:1563,v0:6,pxPerUnit:87.2,ticks:violinTicksHLAF,densNormal:densHLAFNormal,densTumor:densHLAFTumor,halfNormal:105,halfTumor:48.5,box:[7.25,6.35,6.0,5.7,5.05],core:[5.15,7.8],ptsNormal:ptsHLAFNormal,ptsTumor:ptsHLAFTumor,ptsExtra:ptsHLAFTumorExtra,refRed:6.35,refBlue:6.0});
drawViolinPanel({left:1356,right:1879,xNormal:1499,xTumor:1737,y0:1545,v0:7,pxPerUnit:101.8,ticks:violinTicksADAM,densNormal:densADAMNormal,densTumor:densADAMTumor,halfNormal:108,halfTumor:55,box:[8.0,7.36,7.05,6.78,6.25],core:[6.8,8.7],ptsNormal:ptsADAMNormal,ptsTumor:ptsADAMTumor,ptsExtra:ptsADAMTumorExtra,refRed:7.6,refBlue:7.0});

/* ---------- Panel D ---------- */
(function(){
  const g=document.getElementById("roc");
  const xOf=sp=>2277+(1-sp)*829.6;
  const yOf=se=>1826-se*636.9;
  const diag=node(g,"line",{x1:xOf(1.04),y1:yOf(1.04),x2:xOf(-.04),y2:yOf(-.04),stroke:"#c4c4c4","stroke-width":2.5,"stroke-dasharray":"10 8"});
  
  
  const box=node(g,"rect",{x:2244,y:1164,width:895.5,height:687,fill:"none",stroke:"#111","stroke-width":2.5});
  
  
  rocAxisTicks.forEach(v=>{
    const tx=node(g,"line",{x1:xOf(v),x2:xOf(v),y1:1851,y2:1871,stroke:"#111","stroke-width":2.2});
    
    
    const lx=node(g,"text",{x:xOf(v),y:1910,"text-anchor":"middle","dominant-baseline":"central","font-size":30});
    
    
    lx.textContent=v.toFixed(1);
    const ty=node(g,"line",{x1:2225,x2:2244,y1:yOf(v),y2:yOf(v),stroke:"#111","stroke-width":2.2});
    
    
    const ly=node(g,"text",{x:2188,y:yOf(v),"text-anchor":"middle","dominant-baseline":"central","font-size":30,transform:"rotate(-90 2188 "+yOf(v)+")"});
    
    
    ly.textContent=v.toFixed(1);
  });
  [[rocNR1H3Spec,rocNR1H3Sens,"#ff1010"],[rocHLAFSpec,rocHLAFSens,"#1414f0"],[rocADAMSpec,rocADAMSens,"#22ee22"]].forEach(c=>{
    let d="M"+xOf(c[0][0]).toFixed(1)+" "+yOf(c[1][0]).toFixed(1);
    for(let i=1;i<c[0].length;i++){
      const smallStep=Math.abs(c[0][i]-c[0][i-1])>.03&&Math.abs(c[1][i]-c[1][i-1])<.03;
      if(smallStep){
        d+="L"+xOf((c[0][i]+c[0][i-1])/2).toFixed(1)+" "+yOf(c[1][i-1]).toFixed(1)+"L"+xOf(c[0][i]).toFixed(1)+" "+yOf(c[1][i]).toFixed(1);
      }else{
        d+="H"+xOf(c[0][i]).toFixed(1)+"V"+yOf(c[1][i]).toFixed(1);
      }
    }
    const p=node(g,"path",{d:d,fill:"none",stroke:c[2],"stroke-width":3.6});
    
    
  });
  const lg=node(g,"rect",{x:2680,y:1701,width:459.5,height:150,fill:"none",stroke:"#111","stroke-width":2.2});
  
  
  [[1739,"#ff1010"],[1777,"#1414f0"],[1815,"#22ee22"]].forEach(k=>{
    const l=node(g,"line",{x1:2707.5,x2:2766,y1:k[0],y2:k[0],stroke:k[1],"stroke-width":3.6});
    
    
  });
})();

/* ---------- Panels E-G ---------- */
const KM_FINE_STEP_LIMIT=3000;
function survivalAt(curve,t){
  for(let i=1;i<curve.length;i++){
    if(t<curve[i][0]){
      if(curve[i][0]<KM_FINE_STEP_LIMIT){
        const f=(t-curve[i-1][0])/(curve[i][0]-curve[i-1][0]);
        return curve[i-1][1]+(curve[i][1]-curve[i-1][1])*f;
      }
      return curve[i-1][1];
    }
  }
  const last=curve[curve.length-1];
  return last[1]>0?last[1]:curve[curve.length-2][1];
}
function stepPath(curve,xOf,yOf){
  let d="M"+xOf(curve[0][0]).toFixed(1)+" "+yOf(curve[0][1]).toFixed(1);
  for(let i=1;i<curve.length;i++){
    if(curve[i][0]<KM_FINE_STEP_LIMIT){
      d+="L"+xOf(curve[i][0]).toFixed(1)+" "+yOf(curve[i][1]).toFixed(1);
    }else{
      d+="H"+xOf(curve[i][0]).toFixed(1)+"V"+yOf(curve[i][1]).toFixed(1);
    }
  }
  return d;
}
function ribbonPath(up,lo,xOf,yOf){
  let d=stepPath(up,xOf,yOf);
  const end=lo[lo.length-1];
  d+="L"+xOf(end[0]).toFixed(1)+" "+yOf(end[1]).toFixed(1);
  for(let i=lo.length-1;i>=1;i--){
    if(lo[i][0]<KM_FINE_STEP_LIMIT){
      d+="L"+xOf(lo[i-1][0]).toFixed(1)+" "+yOf(lo[i-1][1]).toFixed(1);
    }else{
      d+="V"+yOf(lo[i-1][1]).toFixed(1)+"H"+xOf(lo[i-1][0]).toFixed(1);
    }
  }
  return d+"Z";
}
function drawKm(cfg){
  const g=document.getElementById("km");
  const xOf=t=>cfg.x0+t*.10225;
  const yOf=s=>2858.4-s*625.4;
  const hi="#E7B800",lo="#2E9FDF";
  const r1=node(g,"path",{d:ribbonPath(cfg.highUp,cfg.highLo,xOf,yOf),fill:hi,"fill-opacity":.3});
  
  
  const r2=node(g,"path",{d:ribbonPath(cfg.lowUp,cfg.lowLo,xOf,yOf),fill:lo,"fill-opacity":.3});
  
  
  [[cfg.high,cfg.highCensor,hi],[cfg.low,cfg.lowCensor,lo]].forEach(c=>{
    const p=node(g,"path",{d:stepPath(c[0],xOf,yOf),fill:"none",stroke:c[2],"stroke-width":3.2});
    
    
    const lastT=c[0][c[0].length-1][0];
    kmDenseCensorTimes.concat(c[1]).forEach(t=>{
      if(t>lastT) return;
      const y=yOf(survivalAt(c[0],t));
      const m=node(g,"line",{x1:xOf(t),x2:xOf(t),y1:y-7,y2:y+7,stroke:c[2],"stroke-width":2.2});
      
      
    });
  });
  const ax=node(g,"path",{d:"M"+cfg.axisX+" 2203V2890H"+cfg.axisEnd,fill:"none",stroke:"#111","stroke-width":3});
  
  
  kmXTicks.forEach(v=>{
    const tk=node(g,"line",{x1:xOf(v),x2:xOf(v),y1:2890,y2:2895,stroke:"#111","stroke-width":2});
    
    
    const t=node(g,"text",{x:xOf(v),y:2908,"text-anchor":"middle","dominant-baseline":"central","font-size":20.5});
    
    
    t.textContent=String(v);
  });
  kmYTicks.forEach(v=>{
    const tk=node(g,"line",{x1:cfg.axisX-5,x2:cfg.axisX,y1:yOf(v),y2:yOf(v),stroke:"#111","stroke-width":2});
    
    
    const t=node(g,"text",{x:cfg.axisX-9,y:yOf(v),"text-anchor":"end","dominant-baseline":"central","font-size":20.5});
    
    
    t.textContent=v.toFixed(2);
  });
  [[cfg.keyHigh,hi],[cfg.keyLow,lo]].forEach(k=>{
    const r=node(g,"rect",{x:k[0],y:2144,width:26,height:25,fill:k[1],"fill-opacity":.3});
    
    
    const l=node(g,"line",{x1:k[0]+1,x2:k[0]+25,y1:2157,y2:2157,stroke:k[1],"stroke-width":3});
    
    
    const c=node(g,"line",{x1:k[0]+13,x2:k[0]+13,y1:2151,y2:2163,stroke:k[1],"stroke-width":2});
    
    
  });
}
drawKm({x0:209,axisX:169,axisEnd:1067,keyHigh:485,keyLow:661,high:kmNR1H3High,highUp:kmNR1H3HighUp,highLo:kmNR1H3HighLo,low:kmNR1H3Low,lowUp:kmNR1H3LowUp,lowLo:kmNR1H3LowLo,highCensor:kmNR1H3HighCensor,lowCensor:kmNR1H3LowCensor});
drawKm({x0:1284,axisX:1244,axisEnd:2141,keyHigh:1556,keyLow:1732,high:kmHLAFHigh,highUp:kmHLAFHighUp,highLo:kmHLAFHighLo,low:kmHLAFLow,lowUp:kmHLAFLowUp,lowLo:kmHLAFLowLo,highCensor:kmHLAFHighCensor,lowCensor:kmHLAFLowCensor});
drawKm({x0:2389,axisX:2348,axisEnd:3246,keyHigh:2670,keyLow:2846,high:kmADAMHigh,highUp:kmADAMHighUp,highLo:kmADAMHighLo,low:kmADAMLow,lowUp:kmADAMLowUp,lowLo:kmADAMLowLo,highCensor:kmADAMHighCensor,lowCensor:kmADAMLowCensor});
</script>
</body>
</html>
